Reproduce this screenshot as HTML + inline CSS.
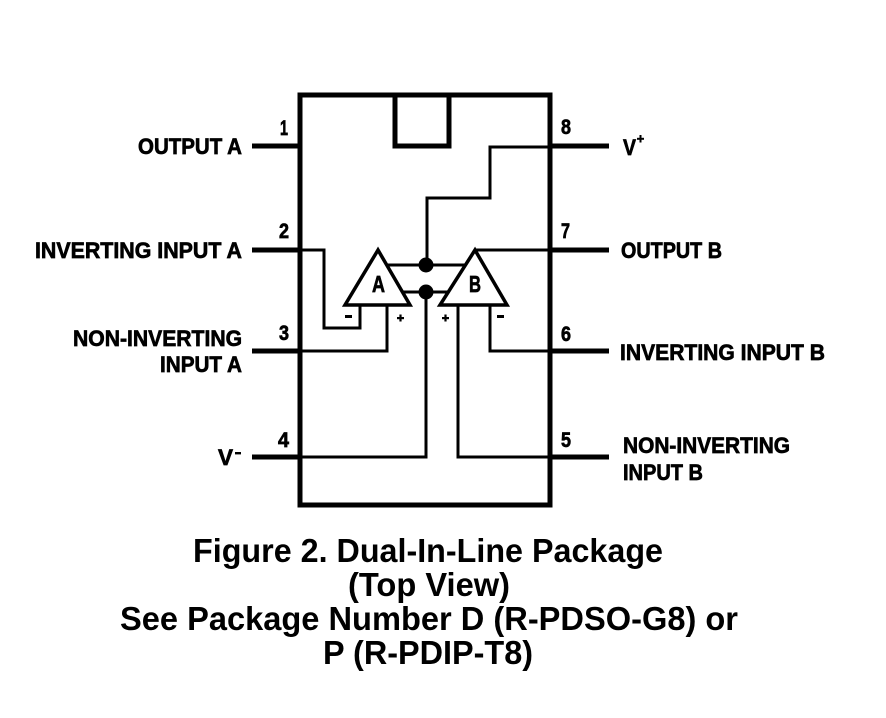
<!DOCTYPE html>
<html>
<head>
<meta charset="utf-8">
<style>
html,body{margin:0;padding:0;background:#fff;}
svg{display:block;}
text{font-family:"Liberation Sans",Arial,sans-serif;font-weight:bold;fill:#000;}
.lbl text{stroke:#000;stroke-width:0.7;}
</style>
</head>
<body>
<svg width="886" height="718" viewBox="0 0 886 718" xmlns="http://www.w3.org/2000/svg">
  <rect x="0" y="0" width="886" height="718" fill="#fff"/>
  <!-- package body -->
  <rect x="300" y="95" width="250" height="410" fill="none" stroke="#000" stroke-width="5"/>
  <!-- notch -->
  <polyline points="395,95 395,146 449,146 449,95" fill="none" stroke="#000" stroke-width="5"/>
  <!-- pins -->
  <g stroke="#000" stroke-width="5">
    <line x1="252" y1="146" x2="300" y2="146"/>
    <line x1="252" y1="250" x2="300" y2="250"/>
    <line x1="252" y1="351" x2="300" y2="351"/>
    <line x1="252" y1="457" x2="300" y2="457"/>
    <line x1="550" y1="146" x2="609" y2="146"/>
    <line x1="550" y1="250" x2="609" y2="250"/>
    <line x1="550" y1="351" x2="609" y2="351"/>
    <line x1="550" y1="457" x2="609" y2="457"/>
  </g>
  <!-- internal wiring -->
  <g fill="none" stroke="#000" stroke-width="3" stroke-linejoin="miter">
    <polyline points="550,147 490,147 490,198 427,198 427,265"/>
    <line x1="387" y1="265" x2="465" y2="265"/>
    <line x1="402" y1="292" x2="448" y2="292"/>
    <polyline points="426,292 426,457 300,457"/>
    <polyline points="300,250 324,250 324,328 360,328 360,306"/>
    <polyline points="300,351 387,351 387,306"/>
    <line x1="475" y1="250" x2="550" y2="250"/>
    <polyline points="550,351 490,351 490,306"/>
    <polyline points="550,457 458,457 458,306"/>
  </g>
  <!-- amps -->
  <polygon points="378,250 345,305 410,305" fill="#fff" stroke="#000" stroke-width="3.5" stroke-linejoin="miter"/>
  <polygon points="475,250 440,305 507,305" fill="#fff" stroke="#000" stroke-width="3.5" stroke-linejoin="miter"/>
  <circle cx="426" cy="265" r="7.5" fill="#000"/>
  <circle cx="426" cy="292" r="7.5" fill="#000"/>
  <g class="lbl">
    <text x="372" y="292" font-size="23" textLength="13" lengthAdjust="spacingAndGlyphs">A</text>
    <text x="469" y="292" font-size="23" textLength="12" lengthAdjust="spacingAndGlyphs">B</text>
  </g>
  <!-- signs -->
  <rect x="345" y="315" width="7" height="3" fill="#000"/>
  <rect x="397" y="317" width="7" height="2.2" fill="#000"/>
  <rect x="399.4" y="314.5" width="2.2" height="7" fill="#000"/>
  <rect x="442" y="317" width="7" height="2.2" fill="#000"/>
  <rect x="444.4" y="314.5" width="2.2" height="7" fill="#000"/>
  <rect x="497" y="315" width="7" height="3" fill="#000"/>

  <!-- pin numbers -->
  <g class="lbl" font-size="21">
    <text x="280" y="135" textLength="8" lengthAdjust="spacingAndGlyphs">1</text>
    <text x="279" y="238" textLength="10" lengthAdjust="spacingAndGlyphs">2</text>
    <text x="279" y="340" textLength="10" lengthAdjust="spacingAndGlyphs">3</text>
    <text x="278" y="447" textLength="11" lengthAdjust="spacingAndGlyphs">4</text>
    <text x="561" y="134" textLength="10" lengthAdjust="spacingAndGlyphs">8</text>
    <text x="561" y="238" textLength="9" lengthAdjust="spacingAndGlyphs">7</text>
    <text x="561" y="341" textLength="10" lengthAdjust="spacingAndGlyphs">6</text>
    <text x="561" y="447" textLength="10" lengthAdjust="spacingAndGlyphs">5</text>
  </g>

  <!-- labels -->
  <g class="lbl" font-size="22.5">
    <text x="138" y="154" textLength="104" lengthAdjust="spacingAndGlyphs">OUTPUT A</text>
    <text x="35" y="258" textLength="207" lengthAdjust="spacingAndGlyphs">INVERTING INPUT A</text>
    <text x="73" y="346" textLength="169" lengthAdjust="spacingAndGlyphs">NON-INVERTING</text>
    <text x="160" y="372" textLength="82" lengthAdjust="spacingAndGlyphs">INPUT A</text>
    <text x="218" y="465" textLength="15" lengthAdjust="spacingAndGlyphs">V</text>
    <text x="623" y="155" textLength="13" lengthAdjust="spacingAndGlyphs">V</text>
    <text x="621" y="258" textLength="101" lengthAdjust="spacingAndGlyphs">OUTPUT B</text>
    <text x="620" y="360" textLength="205" lengthAdjust="spacingAndGlyphs">INVERTING INPUT B</text>
    <text x="623" y="453" textLength="167" lengthAdjust="spacingAndGlyphs">NON-INVERTING</text>
    <text x="623" y="480" textLength="80" lengthAdjust="spacingAndGlyphs">INPUT B</text>
  </g>
  <rect x="235" y="452" width="6" height="2.4" fill="#000"/>
  <rect x="637" y="137.8" width="7" height="2" fill="#000"/>
  <rect x="639.5" y="135" width="2" height="7.5" fill="#000"/>

  <!-- caption -->
  <g font-size="33">
    <text x="193" y="562" textLength="470" lengthAdjust="spacingAndGlyphs">Figure 2. Dual-In-Line Package</text>
    <text x="348" y="596" textLength="162" lengthAdjust="spacingAndGlyphs">(Top View)</text>
    <text x="120" y="630" textLength="618" lengthAdjust="spacingAndGlyphs">See Package Number D (R-PDSO-G8) or</text>
    <text x="323" y="664" textLength="210" lengthAdjust="spacingAndGlyphs">P (R-PDIP-T8)</text>
  </g>
</svg>
</body>
</html>
